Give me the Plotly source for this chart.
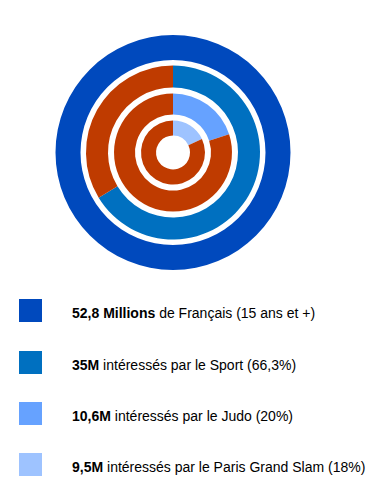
import plotly.graph_objects as go

# Data
ring_names = ["Français 15+", "Sport", "Judo", "Paris Grand Slam"]
ring_shares = [100.0, 66.3, 20.0, 18.0]
legend_bold = ["52,8 Millions", "35M", "10,6M", "9,5M"]
legend_rest = [" de Français (15 ans et +)", " intéressés par le Sport (66,3%)",
               " intéressés par le Judo (20%)", " intéressés par le Paris Grand Slam (18%)"]

ring_colors = ["#0049BD", "#0070C0", "#66A2FF", "#9EC3FF"]
rest_color = "#BF3B00"

W, H = 382, 489
cx, cy = 173, 152.5
outer_r = [117.5, 87, 59, 32]
inner_r = [92.5, 65, 38, 17]

fig = go.Figure()
for i, (name, share) in enumerate(zip(ring_names, ring_shares)):
    r = outer_r[i]
    if share >= 100:
        vals = [share]
        cols = [ring_colors[i]]
        labs = [name]
    else:
        vals = [share, 100 - share]
        cols = [ring_colors[i], rest_color]
        labs = [name, "Autres"]
    fig.add_trace(go.Pie(
        values=vals, labels=labs, sort=False, direction="clockwise", rotation=0,
        hole=inner_r[i] / r, textinfo="none", hoverinfo="label+percent",
        marker=dict(colors=cols, line=dict(width=0)),
        domain=dict(x=[(cx - r) / W, (cx + r) / W], y=[1 - (cy + r) / H, 1 - (cy - r) / H]),
        showlegend=False,
    ))

row_y0 = [299, 351, 402, 453]
sq = 23
for i in range(len(legend_bold)):
    y0 = row_y0[i]
    fig.add_shape(type="rect", xref="paper", yref="paper",
                  x0=19 / W, x1=(19 + sq) / W, y0=1 - y0 / H, y1=1 - (y0 + sq) / H,
                  fillcolor=ring_colors[i], line=dict(width=0))
    fig.add_annotation(xref="paper", yref="paper", x=70 / W, y=1 - (y0 + 13.5) / H,
                       xanchor="left", yanchor="middle", showarrow=False,
                       text=f"<b>{legend_bold[i]}</b>{legend_rest[i]}",
                       font=dict(family="Liberation Sans, Arial", size=14, color="#000000"))

fig.update_layout(width=W, height=H, margin=dict(l=0, r=0, t=0, b=0),
                  paper_bgcolor="white", plot_bgcolor="white")
fig.write_html("out.html", config={"displayModeBar": False},
               post_script="document.body.style.margin='0';document.body.style.overflow='hidden';")
